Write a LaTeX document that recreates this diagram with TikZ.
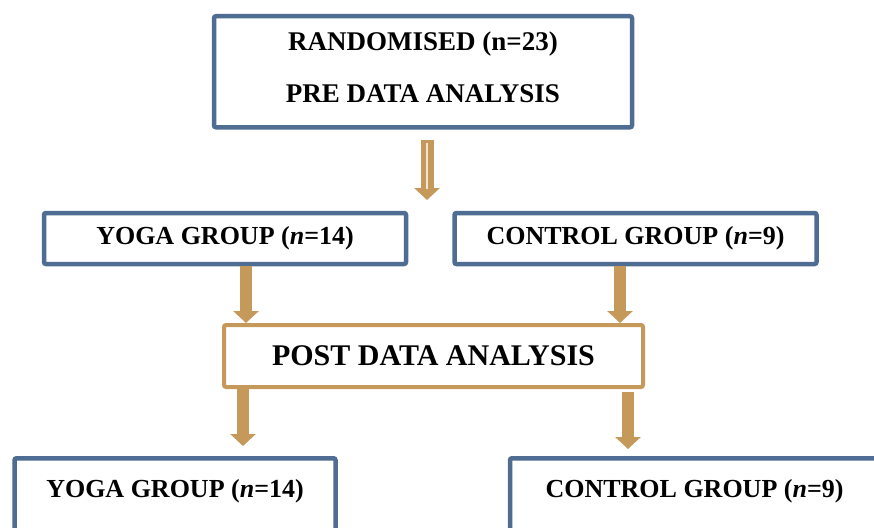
\documentclass[tikz,border=0pt]{standalone}
\usepackage{fontspec}
\setmainfont{Liberation Serif}
\usetikzlibrary{arrows.meta}

\definecolor{boxblue}{RGB}{79,108,146}
\definecolor{arrowgold}{RGB}{196,153,90}

\tikzset{
  bluebox/.style={draw=boxblue, line width=4.5pt, rounded corners=2pt, fill=white,
    font=\fontsize{26}{30}\selectfont\bfseries, inner sep=0pt},
  goldbox/.style={draw=arrowgold, line width=4pt, rounded corners=2pt, fill=white,
    font=\fontsize{30}{34}\selectfont\bfseries, inner sep=0pt},
  goldarrow/.style={arrowgold, line width=12pt, -{Triangle[width=25pt,length=12pt]}}
}

\begin{document}
\begin{tikzpicture}[x=1pt,y=-1pt]
  \useasboundingbox (0,0) rectangle (874,527);

  % Boxes
  \node[bluebox, anchor=north, minimum width=418pt, align=center,
        font=\fontsize{27}{52}\selectfont\bfseries,
        text height=69pt, text depth=7pt, inner ysep=17.5pt] (rand) at (423,14)
        {RANDOMISED (n=23)\\PRE DATA ANALYSIS};
  \node[bluebox, minimum width=362pt, minimum height=51pt] (yoga) at (225,238.5) {YOGA GROUP (\textit{n}=14)};
  \node[bluebox, minimum width=362pt, minimum height=51pt] (ctrl) at (635.5,238.5) {CONTROL GROUP (\textit{n}=9)};
  \node[goldbox, minimum width=419pt, minimum height=62pt] (post) at (433.5,356) {POST DATA ANALYSIS};
  \node[bluebox, anchor=north, minimum width=321pt,
        text height=17pt, text depth=60pt, inner ysep=22pt] (yogapost) at (175,456) {YOGA GROUP (\textit{n}=14)};
  \node[bluebox, anchor=north, minimum width=369pt,
        text height=17pt, text depth=60pt, inner ysep=22pt] (ctrlpost) at (694.5,456) {CONTROL GROUP (\textit{n}=9)};

  % Arrows
  \coordinate (split) at (427,200);
  \draw[goldarrow, line width=13pt] ([xshift=4pt,yshift=-10pt]rand.south) -- (split);
  \draw[white!75!arrowgold, line width=2pt] ([xshift=4pt,yshift=-13pt]rand.south) -- ([yshift=11pt]split);

  \coordinate (yogaout) at ([xshift=21pt]yoga.south);
  \coordinate (ctrlout) at ([xshift=-15.5pt]ctrl.south);
  \draw[goldarrow] (yogaout) -- (yogaout |- post.north);
  \draw[goldarrow] (ctrlout) -- (ctrlout |- post.north);

  \coordinate (postl) at ([xshift=-190.5pt]post.south);
  \coordinate (postr) at ([xshift=194.5pt,yshift=-3pt]post.south);
  \draw[goldarrow, shorten >=10pt] (postl) -- (postl |- yogapost.north);
  \draw[goldarrow, shorten >=7pt] (postr) -- (postr |- ctrlpost.north);
\end{tikzpicture}
\end{document}
